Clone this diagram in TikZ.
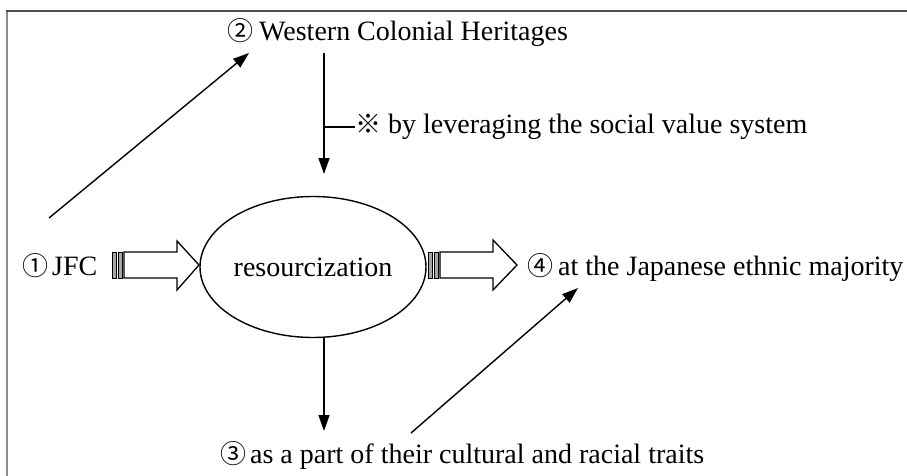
\documentclass[tikz,border=0pt]{standalone}
\usepackage{fontspec}
\setmainfont{Liberation Serif}
\newfontfamily\cjk{Noto Sans CJK JP}
\usetikzlibrary{arrows.meta,shapes.geometric}
\newcommand{\cdig}[1]{{\cjk\fontsize{26}{26}\selectfont #1}}
\tikzset{
  lbl/.style={inner sep=0pt, font=\fontsize{28}{32}\selectfont, anchor=base west},
  thinarrow/.style={line width=1.4pt, -{Triangle[length=16pt,width=11pt]}},
  blockarrow/.style={line width=1.3pt, fill=white, line join=miter},
  stripe/.style={line width=0.9pt, fill=gray!70},
  ellipsebox/.style={draw, ellipse, line width=1.4pt, inner sep=0pt,
    minimum width=226pt, minimum height=141pt, font=\fontsize{28}{32}\selectfont},
}
\begin{document}
\begin{tikzpicture}[x=1pt,y=-1pt]
\useasboundingbox (0,0) rectangle (907,476);
% frame
\draw[black!45, line width=2pt] (7,476) -- (7,11);
\draw[black!70, line width=1.5pt] (6,11) -- (907,11);

% labels
\node[lbl] (n1) at (22,275) {\cdig{①}\hspace{4pt}JFC};
\node[lbl] (n2) at (227,41) {\cdig{②}\hspace{6pt}Western Colonial Heritages};
\node[lbl] (n3) at (220,463) {\cdig{③}\hspace{4pt}as a part of their cultural and racial traits};
\node[lbl] (n4) at (527,275) {\cdig{④}\hspace{5pt}at the Japanese ethnic majority};
\node[lbl] (note) at (355,134) {\cdig{※}\hspace{7pt}by leveraging the social value system};

% central ellipse
\node[ellipsebox] (res) at (313,267) {resourcization};

% connector coordinates
\coordinate (d1s) at (49,218);
\coordinate (d1e) at (249,53);
\coordinate (v1s) at (324,53);
\coordinate (v1e) at (324,174);
\coordinate (tick) at (324,127);
\coordinate (v2s) at (324,337);
\coordinate (v2e) at (324,431);
\coordinate (d2s) at (411,433);
\coordinate (d2e) at (578,288);

\draw[thinarrow] (d1s) -- (d1e);
\draw[thinarrow] (v1s) -- (v1e);
\draw[line width=1.4pt] (tick) -- (note.west |- tick);
\draw[thinarrow] (v2s) -- (v2e);
\draw[thinarrow] (d2s) -- (d2e);

% left block arrow
\draw[stripe] (112,252) rectangle (116,278);
\draw[stripe] (118,252) rectangle (122,278);
\draw[blockarrow] (124,252) -- (177,252) -- (177,241) -- (199,265) -- (177,290)
  -- (177,278) -- (124,278) -- cycle;

% right block arrow
\draw[stripe] (428,252) rectangle (432,278);
\draw[stripe] (434,252) rectangle (438,278);
\draw[blockarrow] (440,252) -- (493,252) -- (493,240) -- (517,265) -- (493,290)
  -- (493,278) -- (440,278) -- cycle;
\end{tikzpicture}
\end{document}
